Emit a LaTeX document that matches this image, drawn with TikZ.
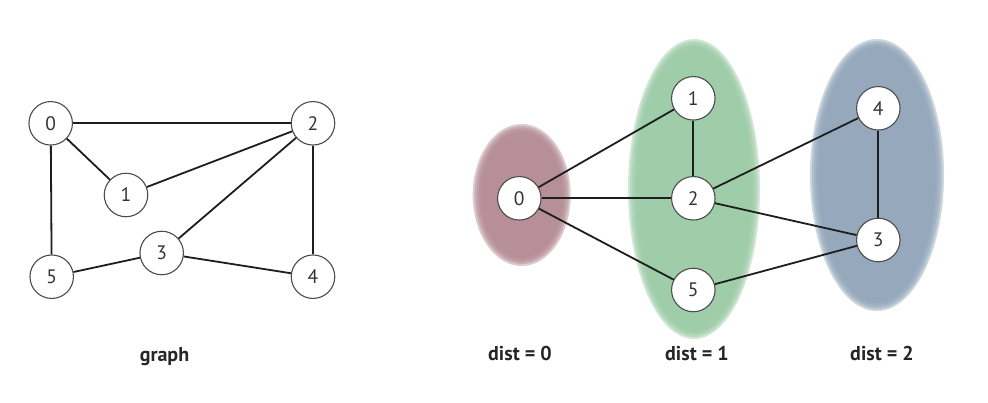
\documentclass[tikz,border=0pt]{standalone}
\usepackage{fontspec}
\setmainfont{PT Sans}
\begin{document}
\definecolor{distzero}{RGB}{180,138,148}
\definecolor{distone}{RGB}{156,203,166}
\definecolor{disttwo}{RGB}{146,166,186}
\definecolor{edgecol}{RGB}{30,30,30}
\begin{tikzpicture}[x=1pt,y=-1pt,
  vtx/.style={circle,draw=black!70,line width=1.1pt,fill=white,text=black!80,
    minimum size=43.5pt,inner sep=0pt,font=\fontsize{19.5}{19.5}\selectfont},
  edge/.style={draw=edgecol,line width=1.8pt},
  caption/.style={font=\bfseries\fontsize{20}{20}\selectfont,anchor=base,text=black!85}]
\useasboundingbox (0,0) rectangle (988,402);
\fill[white] (0,0) rectangle (988,402);

% soft-edged level sets
\foreach \cx/\cy/\rx/\ry/\col in {521.7/195/45/67/distzero, 694/189/62/146/distone, 877/175/63/132/disttwo}{
  \foreach \d in {4,2,0,-2,-4}{
    \fill[\col,opacity=0.45] (\cx,\cy) ellipse [x radius=\rx+\d, y radius=\ry+\d];
  }
}

% input graph
\node[vtx] (a0) at (50.7,123.3) {0};
\node[vtx] (a2) at (313,123.3) {2};
\node[vtx] (a1) at (126,195) {1};
\node[vtx] (a3) at (161.7,253) {3};
\node[vtx] (a5) at (51.7,276.7) {5};
\node[vtx] (a4) at (313,276.7) {4};
\draw[edge] (a0) -- (a2);
\draw[edge] (a0) -- (a1);
\draw[edge] (a1) -- (a2);
\draw[edge] (a0) -- (a5);
\draw[edge] (a2) -- (a3);
\draw[edge] (a2) -- (a4);
\draw[edge] (a5) -- (a3);
\draw[edge] (a3) -- (a4);

% breadth-first layout
\node[vtx] (b0) at (519.3,198.3) {0};
\node[vtx] (b1) at (693.3,98.3) {1};
\node[vtx] (b2) at (693.3,198.3) {2};
\node[vtx] (b5) at (693.3,290) {5};
\node[vtx] (b4) at (878.3,108.3) {4};
\node[vtx] (b3) at (878.3,240) {3};
\draw[edge] (b0) -- (b1);
\draw[edge] (b0) -- (b2);
\draw[edge] (b0) -- (b5);
\draw[edge] (b1) -- (b2);
\draw[edge] (b2) -- (b4);
\draw[edge] (b2) -- (b3);
\draw[edge] (b5) -- (b3);
\draw[edge] (b4) -- (b3);

% captions
\node[caption] (cg) at (164.5,361) {graph};
\node[caption] (c0) at (520,360) {dist = 0};
\node[caption] (c1) at (697,360) {dist = 1};
\node[caption] (c2) at (882,360) {dist = 2};
\end{tikzpicture}
\end{document}
